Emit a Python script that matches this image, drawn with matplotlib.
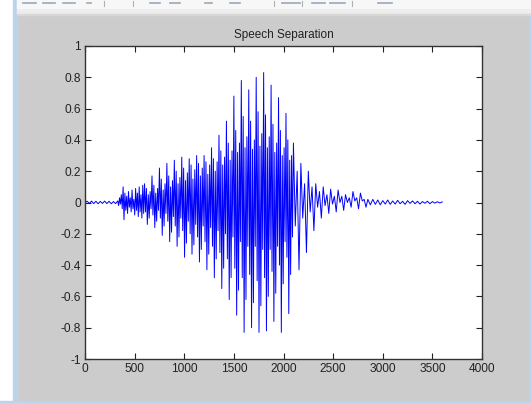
import numpy as np
import matplotlib
matplotlib.use("Agg")
import matplotlib.pyplot as plt
from matplotlib.patches import Rectangle
from matplotlib.lines import Line2D

title = "Speech Separation"
x_ticks = [0, 500, 1000, 1500, 2000, 2500, 3000, 3500, 4000]
y_ticks = [-1, -0.8, -0.6, -0.4, -0.2, 0, 0.2, 0.4, 0.6, 0.8, 1]
y_tick_labels = ["-1", "-0.8", "-0.6", "-0.4", "-0.2", "0", "0.2", "0.4", "0.6", "0.8", "1"]

# waveform turning points, segment by segment
lead_start, lead_step = 0, 22
lead_vals = [0.0, 0.008, -0.006, 0.009, -0.007, 0.008, -0.008, 0.007, -0.006, 0.009,
             -0.007, 0.008, -0.008, 0.006, -0.007]

onset_start, onset_step = 330, 9
onset_vals = [0.01, -0.02, 0.03, -0.01, 0.05, -0.04, 0.10, -0.11, 0.06, -0.05,
              0.04, -0.07, 0.07, -0.03, 0.03, -0.06, 0.08, -0.04, 0.02, -0.08,
              0.09, -0.05, 0.06, -0.09, 0.10, -0.06, 0.05, -0.10, 0.11, -0.07]

voiced_start, voiced_step = 600, 9.375
voiced_vals = [
    0.12, -0.06, 0.09, -0.14, 0.05, -0.10, 0.07, -0.04,
    0.17, -0.08, 0.11, -0.16, 0.06, -0.12, 0.09, -0.05,
    0.22, -0.10, 0.15, -0.21, 0.08, -0.15, 0.12, -0.07,
    0.25, -0.12, 0.17, -0.25, 0.10, -0.19, 0.14, -0.09,
    0.27, -0.15, 0.20, -0.28, 0.12, -0.22, 0.16, -0.10,
    0.29, -0.18, 0.22, -0.35, 0.14, -0.26, 0.19, -0.12,
    0.28, -0.20, 0.24, -0.33, 0.15, -0.27, 0.21, -0.14,
    0.30, -0.22, 0.25, -0.38, 0.17, -0.30, 0.22, -0.15,
    0.30, -0.25, 0.26, -0.43, 0.18, -0.33, 0.24, -0.16,
    0.35, -0.28, 0.28, -0.48, 0.20, -0.36, 0.26, -0.18,
    0.43, -0.32, 0.33, -0.55, 0.24, -0.42, 0.29, -0.20,
    0.52, -0.36, 0.38, -0.62, 0.27, -0.48, 0.33, -0.22,
    0.68, -0.42, 0.46, -0.72, 0.32, -0.56, 0.38, -0.25,
    0.78, -0.48, 0.55, -0.83, 0.35, -0.62, 0.42, -0.28,
    0.72, -0.46, 0.52, -0.80, 0.34, -0.64, 0.40, -0.28,
    0.80, -0.50, 0.58, -0.83, 0.36, -0.66, 0.44, -0.30,
    0.83, -0.48, 0.56, -0.82, 0.35, -0.60, 0.42, -0.30,
    0.75, -0.44, 0.50, -0.76, 0.32, -0.58, 0.38, -0.28,
    0.67, -0.40, 0.46, -0.83, 0.30, -0.52, 0.35, -0.25,
    0.57, -0.35, 0.40, -0.71, 0.27, -0.46, 0.30, -0.22,
]

decay_start, decay_step = 2100, 18.75
decay_vals = [
    0.38, -0.15, 0.20, -0.43,
    0.25, -0.10, 0.12, -0.32,
    0.20, -0.06, 0.10, -0.18,
    0.12, -0.03, 0.07, -0.10,
    0.10, -0.02, 0.05, -0.07,
    0.085, -0.01, 0.04, -0.06,
    0.08, 0.00, 0.04, -0.05,
    0.05, 0.00, 0.03, -0.03,
    0.07, 0.01, 0.03, -0.04,
    0.06, 0.01, 0.02, -0.03,
]

tail_start, tail_step = 2850, 25
tail_vals = [0.02, -0.015, 0.02, -0.012, 0.016, -0.015, 0.012, -0.01, 0.016, -0.012,
             0.01, -0.01, 0.014, -0.008, 0.008, -0.012, 0.012, -0.006, 0.01, -0.008,
             0.008, -0.01, 0.006, -0.005, 0.008, -0.008, 0.006, -0.004, 0.005, -0.003, 0.004]

segments = [(lead_start, lead_step, lead_vals), (onset_start, onset_step, onset_vals),
            (voiced_start, voiced_step, voiced_vals), (decay_start, decay_step, decay_vals),
            (tail_start, tail_step, tail_vals)]
xs, ys = [], []
for start, step, vals in segments:
    xs.extend(start + step * i for i in range(len(vals)))
    ys.extend(vals)

W, H = 531, 403
fig = plt.figure(figsize=(W / 100, H / 100), dpi=100)
fig.patch.set_facecolor("#cccccc")

# window chrome
fig.add_artist(Rectangle((0, 0), 13 / W, 1, transform=fig.transFigure, color="#ffffff", zorder=0))
fig.add_artist(Rectangle((13 / W, 0), 4 / W, 1, transform=fig.transFigure, color="#bcd3ec", zorder=0))
fig.add_artist(Rectangle((0, 0), 1, 2 / H, transform=fig.transFigure, color="#bcd3ec", zorder=0))
fig.add_artist(Rectangle((1 - 2 / W, 0), 2 / W, 1, transform=fig.transFigure, color="#bcd3ec", zorder=0))
fig.add_artist(Rectangle((17 / W, 1 - 14 / H), 1, 14 / H, transform=fig.transFigure, color="#ededed", zorder=0))
fig.add_artist(Rectangle((17 / W, 1 - 8 / H), 1, 8 / H, transform=fig.transFigure, color="#f7f7f7", zorder=0))
fig.add_artist(Rectangle((17 / W, 1 - 15 / H), 1, 1 / H, transform=fig.transFigure, color="#d8d8d8", zorder=0))
# faint toolbar icon remnants
for x0, x1 in [(23, 36), (43, 55), (63, 75), (87, 91), (150, 160), (170, 180), (205, 212),
               (230, 240), (282, 300), (312, 325), (330, 345), (378, 392)]:
    fig.add_artist(Line2D([x0 / W, x1 / W], [1 - 3 / H, 1 - 3 / H], transform=fig.transFigure,
                          color="#9aa8b8", linewidth=1.2, zorder=1))
for xv in [104, 133, 274, 302, 352]:
    fig.add_artist(Line2D([xv / W, xv / W], [1 - 1 / H, 1 - 6 / H], transform=fig.transFigure,
                          color="#b0b0b0", linewidth=0.8, zorder=1))

ax = fig.add_axes([85 / W, 1 - 359 / H, (482 - 85) / W, (359 - 46) / H])
ax.set_facecolor("white")
ax.plot(xs, ys, color="#0000ff", linewidth=0.7)
ax.set_xlim(0, 4000)
ax.set_ylim(-1, 1)
ax.set_xticks(x_ticks)
ax.set_xticklabels([str(t) for t in x_ticks])
ax.set_yticks(y_ticks)
ax.set_yticklabels(y_tick_labels)
ax.tick_params(direction="in", length=4, width=0.8, top=True, right=True,
               labelsize=8.6, colors="#222222", pad=3)
for sp in ax.spines.values():
    sp.set_color("#333333")
    sp.set_linewidth(1.0)
for lab in ax.get_xticklabels() + ax.get_yticklabels():
    lab.set_family("Liberation Sans")
ax.set_title(title, fontsize=8.5, family="Liberation Sans", color="#222222", pad=6)

fig.savefig("out.png", dpi=100, facecolor=fig.get_facecolor())
